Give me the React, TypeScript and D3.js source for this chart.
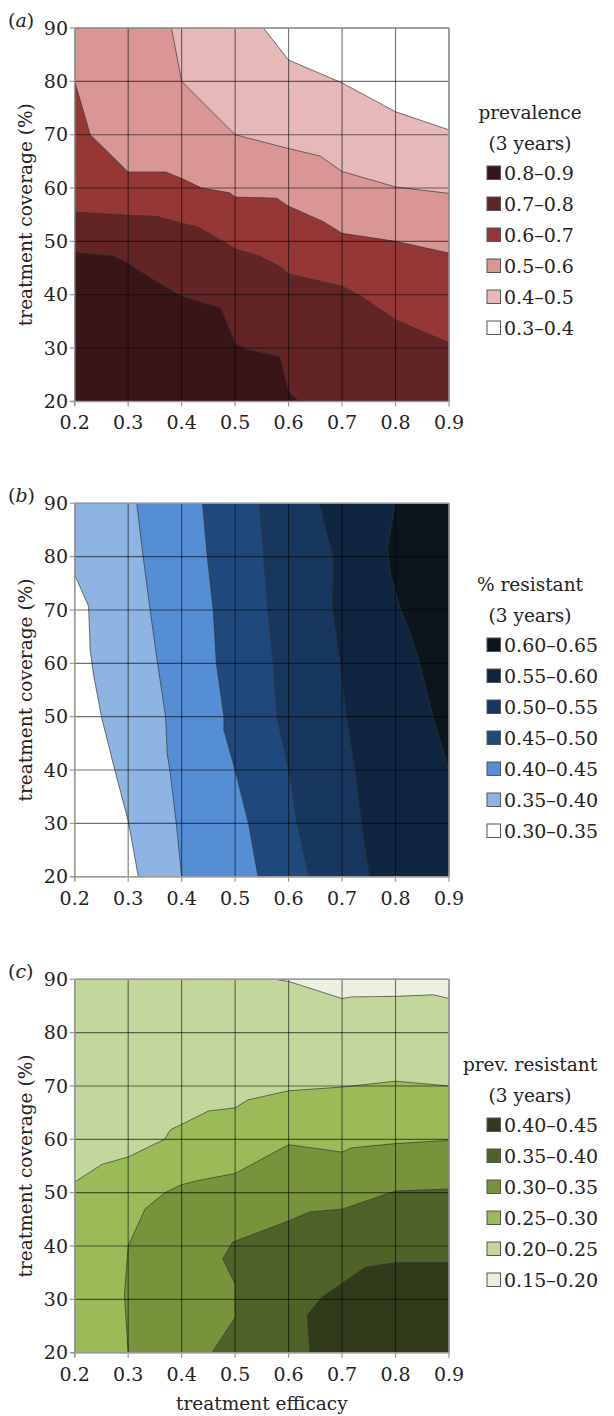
import React from 'react';
import * as d3 from 'd3';

type P = [number, number];

const xTicks = [0.2, 0.3, 0.4, 0.5, 0.6, 0.7, 0.8, 0.9];
const yTicks = [20, 30, 40, 50, 60, 70, 80, 90];
const xTickLabels = ['0.2', '0.3', '0.4', '0.5', '0.6', '0.7', '0.8', '0.9'];
const yTickLabels = ['20', '30', '40', '50', '60', '70', '80', '90'];

// ---------- panel (a): prevalence ----------
const prevLegend = ['0.8–0.9', '0.7–0.8', '0.6–0.7', '0.5–0.6', '0.4–0.5', '0.3–0.4'];
const prevColors = ['#3a1517', '#632426', '#953735', '#d99694', '#e6b9b8', '#ffffff'];
const prevB08: P[] = [[0.2, 48.0], [0.272, 47.3], [0.3, 45.9], [0.353, 42.5], [0.4, 39.8], [0.435, 38.7], [0.474, 37.5], [0.5, 30.9], [0.521, 29.8], [0.584, 28.4], [0.6, 21.9], [0.62, 20]];
const prevB07: P[] = [[0.2, 55.5], [0.3, 54.9], [0.353, 54.7], [0.4, 53.4], [0.428, 52.8], [0.472, 50.3], [0.5, 48.6], [0.546, 47.2], [0.584, 45.3], [0.6, 43.9], [0.7, 41.6], [0.736, 39.7], [0.8, 35.3], [0.9, 31.0]];
const prevB06: P[] = [[0.2, 80], [0.229, 70], [0.3, 63.0], [0.37, 63.0], [0.4, 61.8], [0.4375, 60], [0.49, 59.1], [0.5, 58.3], [0.5775, 58.1], [0.6, 56.6], [0.665, 53.7], [0.7, 51.5], [0.8, 50.0], [0.9, 47.8]];
const prevB05: P[] = [[0.381, 90], [0.4, 80], [0.5, 70], [0.6, 67.4], [0.659, 66.0], [0.7, 63.1], [0.8, 60.2], [0.9, 59.0]];
const prevB04: P[] = [[0.553, 90], [0.6, 84.0], [0.7, 79.7], [0.8, 74.3], [0.9, 70.9]];

// ---------- panel (b): % resistant ----------
const resLegend = ['0.60–0.65', '0.55–0.60', '0.50–0.55', '0.45–0.50', '0.40–0.45', '0.35–0.40', '0.30–0.35'];
const resColors = ['#0c151d', '#10253f', '#17375e', '#1f497d', '#558ed5', '#8eb4e3', '#ffffff'];
const resB035: P[] = [[0.2, 76.6], [0.226, 70.7], [0.229, 62.5], [0.235, 58], [0.25, 50], [0.275, 40], [0.3, 30.5], [0.319, 20]];
const resB040: P[] = [[0.316, 90], [0.328, 80], [0.341, 70], [0.355, 60], [0.37, 50], [0.373, 43], [0.378, 40], [0.39, 30], [0.4, 20]];
const resB045: P[] = [[0.439, 90], [0.448, 80], [0.459, 70], [0.465, 60], [0.479, 50], [0.479, 47.5], [0.5, 40], [0.525, 30], [0.543, 20]];
const resB050: P[] = [[0.546, 90], [0.553, 80], [0.561, 70], [0.571, 60], [0.578, 50], [0.6, 40], [0.616, 30], [0.638, 20]];
const resB055: P[] = [[0.657, 90], [0.683, 80], [0.682, 70], [0.696, 60], [0.708, 50], [0.724, 40], [0.736, 30], [0.751, 20]];
const resB060: P[] = [[0.799, 90], [0.785, 81.5], [0.79, 77], [0.81, 70], [0.83, 65], [0.845, 60], [0.87, 50], [0.9, 40]];

// ---------- panel (c): prev. resistant ----------
const prLegend = ['0.40–0.45', '0.35–0.40', '0.30–0.35', '0.25–0.30', '0.20–0.25', '0.15–0.20'];
const prColors = ['#313b1c', '#4f6228', '#77933c', '#9bbb59', '#c3d69b', '#ebf1de'];
const prB020: P[] = [[0.574, 90], [0.6, 89.6], [0.7, 86.4], [0.718, 86.7], [0.8, 86.8], [0.871, 87.1], [0.9, 86.4]];
const prB025: P[] = [[0.9, 70], [0.8, 70.9], [0.7, 69.8], [0.6, 69.1], [0.524, 67.4], [0.5, 65.9], [0.45, 65.3], [0.4, 62.8], [0.379, 61.8], [0.368, 60], [0.3, 56.7], [0.251, 55.3], [0.2, 52.0]];
const prB030: P[] = [[0.9, 59.8], [0.8, 59.2], [0.718, 58.4], [0.7, 57.6], [0.6, 59.0], [0.55, 56.3], [0.5, 53.6], [0.427, 52.2], [0.4, 51.5], [0.369, 50], [0.332, 47.0], [0.3, 40], [0.293, 30.8], [0.3, 20]];
const prB035: P[] = [[0.9, 50.7], [0.8, 50.3], [0.7, 46.9], [0.639, 46.4], [0.6, 44.7], [0.5, 40.9], [0.496, 40.8], [0.477, 37.6], [0.5, 32.9], [0.5, 26.6], [0.457, 20]];
const prB040: P[] = [[0.9, 36.9], [0.8, 36.9], [0.743, 36.0], [0.7, 33.0], [0.662, 30.4], [0.635, 27.0], [0.64, 20]];

const FONT = '"DejaVu Serif", serif';
const FS_NUM = 19;
const FS_TXT = 18.5;

const X0 = 0.2, X1 = 0.9, Y0 = 20, Y1 = 90;

function perimT(p: P): number {
  const [x, y] = p;
  const e = 1e-6;
  if (Math.abs(y - Y0) < e && x < X1 - e) return (x - X0) / (X1 - X0);
  if (Math.abs(x - X1) < e && y < Y1 - e) return 1 + (y - Y0) / (Y1 - Y0);
  if (Math.abs(y - Y1) < e && x > X0 + e) return 2 + (X1 - x) / (X1 - X0);
  return 3 + (Y1 - y) / (Y1 - Y0);
}
const corners: P[] = [[X0, Y0], [X1, Y0], [X1, Y1], [X0, Y1]];

function closeRegion(b: P[]): P[] {
  const start = b[0];
  const end = b[b.length - 1];
  const te = perimT(end);
  let ts = perimT(start);
  if (ts <= te) ts += 4;
  const out = b.slice();
  for (let k = Math.floor(te) + 1; k < ts; k++) out.push(corners[k % 4]);
  return out;
}

function T(props: { x: number; y: number; anchor?: string; rotate?: number; children: React.ReactNode; size?: number }) {
  const { x, y, anchor = 'start', rotate = 0, children, size = FS_TXT } = props;
  return (
    <text
      transform={`translate(${x},${y}) rotate(${rotate})`}
      textAnchor={anchor as any}
      fontFamily={FONT}
      fontSize={size}
      fill="#222"
    >
      {children}
    </text>
  );
}

type PanelProps = {
  top: number;
  letter: string;
  base: string;
  layers: { b: P[]; color: string }[];
  legendTitle: string;
  legendLabels: string[];
  legendColors: string[];
  legendTop: number;
  showXTitle?: boolean;
};

const PL = 74.7, PR = 449, PH = 373.4;

function Panel(p: PanelProps) {
  const x = d3.scaleLinear().domain([X0, X1]).range([PL, PR]);
  const y = d3.scaleLinear().domain([Y0, Y1]).range([p.top + PH, p.top]);
  const line = d3.line<P>().x((d) => x(d[0])).y((d) => y(d[1]));
  const polyPath = (pts: P[]) => line(pts) + 'Z';
  const bottom = p.top + PH;
  return (
    <g>
      <rect x={PL} y={p.top} width={PR - PL} height={PH} fill={p.base} />
      {p.layers.map((l, i) => (
        <path key={i} d={polyPath(closeRegion(l.b))} fill={l.color} stroke="none" />
      ))}
      {p.layers.map((l, i) => (
        <path key={'l' + i} d={line(l.b) || ''} fill="none" stroke="#333" strokeOpacity={0.75} strokeWidth={0.9} />
      ))}
      {xTicks.map((t, i) => (
        <line key={'gx' + i} x1={x(t)} x2={x(t)} y1={p.top} y2={bottom} stroke="#000" strokeOpacity={0.55} strokeWidth={1.1} />
      ))}
      {yTicks.map((t, i) => (
        <line key={'gy' + i} x1={PL} x2={PR} y1={y(t)} y2={y(t)} stroke="#000" strokeOpacity={0.55} strokeWidth={1.1} />
      ))}
      <line x1={PL} x2={PR} y1={p.top} y2={p.top} stroke="#999" strokeWidth={1.5} />
      <line x1={PR} x2={PR} y1={p.top} y2={bottom} stroke="#999" strokeWidth={1.5} />
      <line x1={PL} x2={PL} y1={p.top} y2={bottom + 4} stroke="#999" strokeWidth={1.5} />
      <line x1={PL - 4} x2={PR} y1={bottom} y2={bottom} stroke="#999" strokeWidth={1.5} />
      {xTicks.map((t, i) => (
        <line key={'tx' + i} x1={x(t)} x2={x(t)} y1={bottom} y2={bottom + 5} stroke="#999" strokeWidth={1.2} />
      ))}
      {yTicks.map((t, i) => (
        <line key={'ty' + i} x1={PL - 5} x2={PL} y1={y(t)} y2={y(t)} stroke="#999" strokeWidth={1.2} />
      ))}
      {xTicks.map((t, i) => (
        <T key={'lx' + i} x={x(t)} y={bottom + 28} anchor="middle" size={FS_NUM}>{xTickLabels[i]}</T>
      ))}
      {yTicks.map((t, i) => (
        <T key={'ly' + i} x={68} y={y(t) + 6.7} anchor="end" size={FS_NUM}>{yTickLabels[i]}</T>
      ))}
      <T x={8} y={p.top - 1} size={FS_NUM}>
        <tspan>(</tspan>
        <tspan fontStyle="italic">{p.letter}</tspan>
        <tspan>)</tspan>
      </T>
      <T x={31.5} y={p.top + PH / 2} anchor="middle" rotate={-90}>treatment coverage (%)</T>
      {p.showXTitle && (
        <T x={(PL + PR) / 2} y={bottom + 57} anchor="middle">treatment efficacy</T>
      )}
      <T x={530} y={p.legendTop} anchor="middle">{p.legendTitle}</T>
      <T x={530} y={p.legendTop + 31} anchor="middle">(3 years)</T>
      {p.legendLabels.map((lab, i) => {
        const cy = p.legendTop + 54 + i * 31;
        return (
          <g key={'lg' + i}>
            <rect x={487} y={cy - 7} width={13.5} height={13.5} fill={p.legendColors[i]} stroke="#555" strokeWidth={1} />
            <T x={504} y={cy + 7} size={FS_NUM}>{lab}</T>
          </g>
        );
      })}
    </g>
  );
}

export default function App() {
  return (
    <svg width={614} height={1416} style={{ position: 'absolute', left: 0, top: 0 }}>
      <rect width={614} height={1416} fill="#fff" />
      <Panel
        top={28}
        letter="a"
        base={prevColors[0]}
        layers={[
          { b: prevB08, color: prevColors[1] },
          { b: prevB07, color: prevColors[2] },
          { b: prevB06, color: prevColors[3] },
          { b: prevB05, color: prevColors[4] },
          { b: prevB04, color: prevColors[5] },
        ]}
        legendTitle="prevalence"
        legendLabels={prevLegend}
        legendColors={prevColors}
        legendTop={119}
      />
      <Panel
        top={503.3}
        letter="b"
        base={resColors[6]}
        layers={[
          { b: resB035, color: resColors[5] },
          { b: resB040, color: resColors[4] },
          { b: resB045, color: resColors[3] },
          { b: resB050, color: resColors[2] },
          { b: resB055, color: resColors[1] },
          { b: resB060, color: resColors[0] },
        ]}
        legendTitle="% resistant"
        legendLabels={resLegend}
        legendColors={resColors}
        legendTop={591}
      />
      <Panel
        top={979.3}
        letter="c"
        base={prColors[4]}
        layers={[
          { b: prB020, color: prColors[5] },
          { b: prB025, color: prColors[3] },
          { b: prB030, color: prColors[2] },
          { b: prB035, color: prColors[1] },
          { b: prB040, color: prColors[0] },
        ]}
        legendTitle="prev. resistant"
        legendLabels={prLegend}
        legendColors={prColors}
        legendTop={1071}
        showXTitle
      />
    </svg>
  );
}
